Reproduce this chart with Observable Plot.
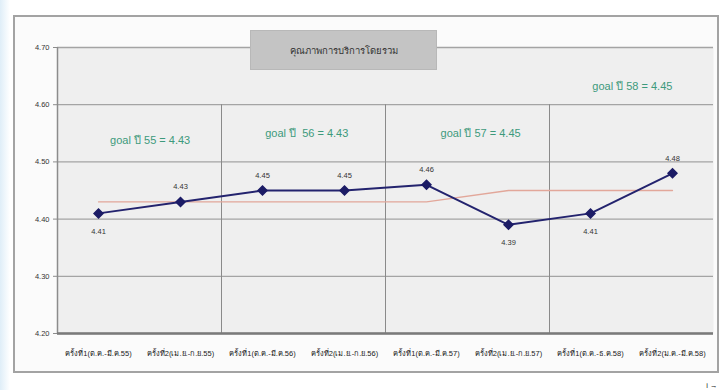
<!DOCTYPE html>
<html>
<head>
<meta charset="utf-8">
<script src="https://cdn.jsdelivr.net/npm/d3@7"></script>
<script src="https://cdn.jsdelivr.net/npm/@observablehq/plot@0.6"></script>
<style>
  html, body { margin: 0; padding: 0; background: #ffffff; overflow: hidden; }
  #wrap { position: relative; width: 720px; height: 390px; overflow: hidden; background: #fff; }
  #edge { position: absolute; left: 0; top: 0; width: 10px; height: 390px; background: linear-gradient(to right, #dfeef8, #ffffff); }
  #frame { position: absolute; left: 13px; top: 15px; width: 702px; height: 354px; border: 2px solid #a3a3a3; background: #fbfbfb; }
  #chart { position: absolute; left: 0; top: 0; }
  #chart svg { display: block; }
  #title { position: absolute; left: 250px; top: 30px; width: 187px; height: 40px; background: #c4c4c4;
           border: 1px solid #b8b8b8; box-sizing: border-box; display: flex; align-items: center; justify-content: center;
           font: 9.5px "Liberation Sans Narrow", "Liberation Sans", sans-serif; color: #333; }
</style>
</head>
<body>
<div id="wrap">
  <div id="edge"></div>
  <div id="frame"></div>
  <div id="chart"></div>
  <div id="title"></div>
</div>
<script>
const titleText = "คุณภาพการบริการโดยรวม";
const categories = [
  "ครั้งที่1(ต.ค.-มี.ค.55)",
  "ครั้งที่2(เม.ย.-ก.ย.55)",
  "ครั้งที่1(ต.ค.-มี.ค.56)",
  "ครั้งที่2(เม.ย.-ก.ย.56)",
  "ครั้งที่1(ต.ค.-มี.ค.57)",
  "ครั้งที่2(เม.ย.-ก.ย.57)",
  "ครั้งที่1(ต.ค.-ธ.ค.58)",
  "ครั้งที่2(ม.ค.-มี.ค.58)"
];
const scores = [4.41, 4.43, 4.45, 4.45, 4.46, 4.39, 4.41, 4.48];
const goals  = [4.43, 4.43, 4.43, 4.43, 4.43, 4.45, 4.45, 4.45];
const scoreLabels = ["4.41", "4.43", "4.45", "4.45", "4.46", "4.39", "4.41", "4.48"];
const labelBelow = [true, false, false, false, false, true, true, false];
const goalLabels = ["goal ปี 55 = 4.43", "goal ปี  56 = 4.43", "goal ปี 57 = 4.45", "goal ปี 58 = 4.45"];
const yTicks = [4.20, 4.30, 4.40, 4.50, 4.60, 4.70];

document.getElementById("title").textContent = titleText;

const idx = categories.map((c, i) => i);
const pts = idx.map(i => ({i, cat: categories[i], score: scores[i], goal: goals[i], label: scoreLabels[i], below: labelBelow[i]}));
const separators = [1.5, 3.5, 5.5];
// goal annotations: centred on each pair of surveys
const goalAnn = goalLabels.map((t, k) => ({t, x: 2 * k + 0.5, k}));

const font = '"Liberation Sans Narrow", "Liberation Sans", sans-serif';

const chart = Plot.plot({
  width: 720,
  height: 390,
  marginLeft: 57,
  marginRight: 7,
  marginTop: 47,
  marginBottom: 57,
  style: {background: "transparent", fontFamily: font},
  x: {type: "linear", domain: [-0.5, 7.5], axis: null},
  y: {domain: [4.2, 4.7], axis: null},
  marks: [
    Plot.frame({fill: "#efefef", stroke: null}),
    Plot.ruleY(yTicks, {stroke: "#a4a4a4", strokeWidth: 1.3}),
    Plot.ruleX(separators, {y1: 4.2, y2: 4.6, stroke: "#8a8a8a", strokeWidth: 1}),
    Plot.ruleX([-0.5], {stroke: "#8c8c8c", strokeWidth: 1.5}),
    Plot.ruleY([4.2], {stroke: "#7a7a7a", strokeWidth: 2.5}),
    Plot.axisY({ticks: yTicks, tickFormat: d3.format(".2f"), tickSize: 4, tickPadding: 4, fontSize: 7.5, stroke: "#8c8c8c", color: "#333"}),
    Plot.axisX({ticks: idx, tickFormat: i => categories[i], tickSize: 0, tickPadding: 17, fontSize: 7.5, color: "#222"}),
    Plot.line(pts, {x: "i", y: "goal", stroke: "#e2a79a", strokeWidth: 1.3}),
    Plot.line(pts, {x: "i", y: "score", stroke: "#23236e", strokeWidth: 2}),
    Plot.dot(pts, {x: "i", y: "score", symbol: "diamond2", r: 4, fill: "#1c1c66", stroke: "#1c1c66"}),
    Plot.text(pts.filter(d => !d.below), {x: "i", y: "score", text: "label", dy: -15, fontSize: 7.5, fill: "#333"}),
    Plot.text(pts.filter(d => d.below), {x: "i", y: "score", text: "label", dy: 18, fontSize: 7.5, fill: "#333"}),
    Plot.text(goalAnn, {x: d => d.x + [0.13, 0.04, 0.16, 0.01][d.k], y: d => [4.538, 4.55, 4.55, 4.632][d.k], text: "t", fontSize: 11, fill: "#3d9a7c"})
  ]
});
document.getElementById("chart").appendChild(chart);
</script>
</body>
</html>
